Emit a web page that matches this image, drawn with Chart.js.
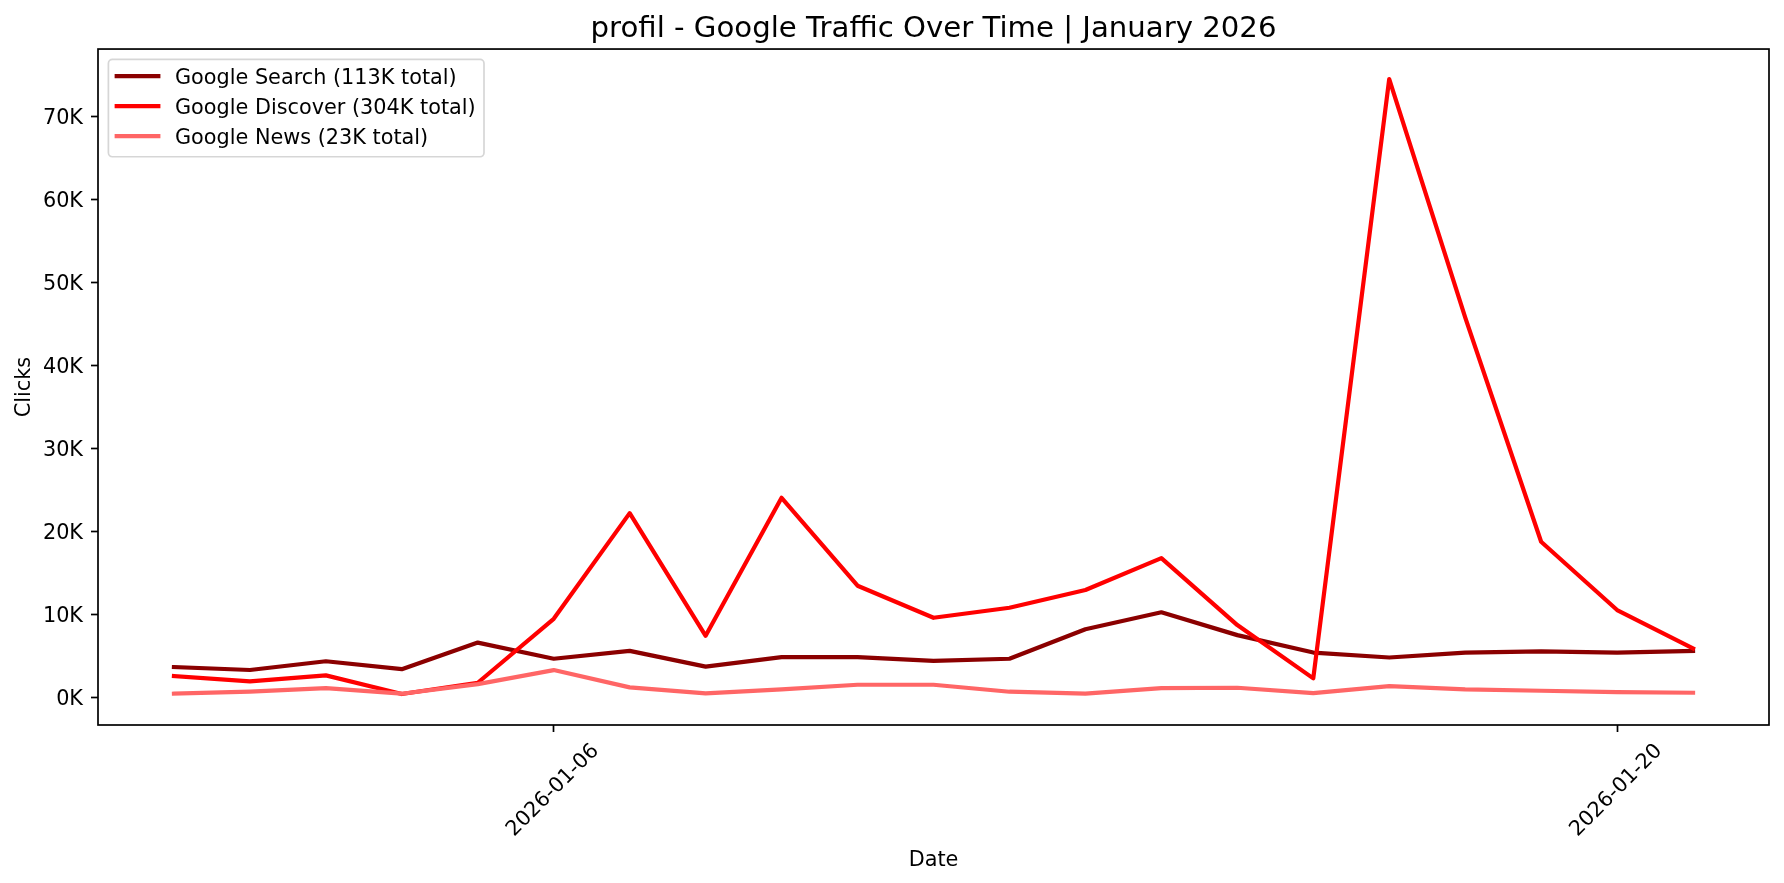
<!DOCTYPE html>
<html>
<head>
<meta charset="utf-8">
<title>profil - Google Traffic Over Time</title>
<script src="https://cdn.jsdelivr.net/npm/chart.js@4.4.1/dist/chart.umd.min.js"></script>
<style>
    html, body { margin: 0; padding: 0; background: #fff; overflow: hidden; }
    #trafficChart { display: block; }
</style>
</head>
<body>
<canvas id="trafficChart" width="1784" height="883"></canvas>
<script>
// Tanggal harian (sumbu X)
const dates = [
    '2026-01-01', '2026-01-02', '2026-01-03', '2026-01-04', '2026-01-05',
    '2026-01-06', '2026-01-07', '2026-01-08', '2026-01-09', '2026-01-10',
    '2026-01-11', '2026-01-12', '2026-01-13', '2026-01-14', '2026-01-15',
    '2026-01-16', '2026-01-17', '2026-01-18', '2026-01-19', '2026-01-20',
    '2026-01-21'
];
const xTickIndex = [5, 19]; // hanya 2026-01-06 dan 2026-01-20 yang diberi label
const yTicks = [0, 10000, 20000, 30000, 40000, 50000, 60000, 70000];

// Clicks per hari
const searchClicks = [3650, 3300, 4350, 3400, 6600, 4650, 5600, 3700, 4850, 4850, 4400,
                      4650, 8200, 10250, 7500, 5400, 4800, 5400, 5550, 5400, 5600];
const discoverClicks = [2570, 1920, 2650, 400, 1760, 9470, 22200, 7420, 24050, 13450, 9590,
                        10800, 12930, 16780, 8710, 2290, 74500, 45800, 18750, 10520, 5900];
const newsClicks = [440, 680, 1120, 440, 1600, 3290, 1200, 480, 960, 1520, 1520,
                    680, 440, 1120, 1160, 520, 1360, 960, 800, 640, 560];

const seriesLabels = ['Google Search (113K total)', 'Google Discover (304K total)', 'Google News (23K total)'];
const seriesColors = ['#8b0000', '#ff0000', '#ff6666'];

const FONT = 20.8; // 10pt @150dpi

Chart.defaults.font.family = "'DejaVu Sans', sans-serif";
Chart.defaults.color = '#000';

function toPoints(values) {
    return values.map((v, i) => ({ x: i, y: v }));
}

// Bingkai penuh + legend di dalam area plot
const frameAndLegend = {
    id: 'frameAndLegend',
    afterDatasetsDraw(chart) {
        const { ctx, chartArea: a } = chart;
        ctx.save();

        // frame (4 sisi)
        ctx.strokeStyle = '#000';
        ctx.lineWidth = 1.7;
        ctx.strokeRect(a.left, a.top, a.right - a.left, a.bottom - a.top);

        // legend box
        ctx.font = FONT + "px 'DejaVu Sans'";
        const sets = chart.data.datasets;
        const textW = Math.max(...sets.map(d => ctx.measureText(d.label).width));
        const pad = 0.4 * FONT;
        const handleLen = 2 * FONT;
        const textPad = 0.8 * FONT;
        const rowH = 30;
        const bx = a.left + 0.5 * FONT;
        const by = a.top + 0.5 * FONT;
        const bw = pad + handleLen + textPad + textW + pad;
        const bh = 97.3;

        ctx.beginPath();
        if (ctx.roundRect) ctx.roundRect(bx, by, bw, bh, 4);
        else ctx.rect(bx, by, bw, bh);
        ctx.fillStyle = 'rgba(255,255,255,0.8)';
        ctx.fill();
        ctx.strokeStyle = 'rgba(204,204,204,0.8)';
        ctx.lineWidth = 1.7;
        ctx.stroke();

        sets.forEach((d, i) => {
            const cy = by + 16.6 + i * rowH;
            ctx.beginPath();
            ctx.lineCap = 'square';
            ctx.strokeStyle = d.borderColor;
            ctx.lineWidth = 4.2;
            ctx.moveTo(bx + pad, cy);
            ctx.lineTo(bx + pad + handleLen, cy);
            ctx.stroke();

            ctx.fillStyle = '#000';
            ctx.textAlign = 'left';
            ctx.textBaseline = 'middle';
            ctx.fillText(d.label, bx + pad + handleLen + textPad, cy + 2.5);
        });
        ctx.restore();
    }
};

const tickGrid = {
    drawOnChartArea: false,
    drawTicks: true,
    tickLength: 7,
    tickWidth: 1.7,
    tickColor: '#000'
};

const ctxTraffic = document.getElementById('trafficChart').getContext('2d');
const trafficChart = new Chart(ctxTraffic, {
    type: 'line',
    data: {
        datasets: [searchClicks, discoverClicks, newsClicks].map((values, i) => ({
            label: seriesLabels[i],
            data: toPoints(values),
            borderColor: seriesColors[i],
            backgroundColor: seriesColors[i],
            borderWidth: 4.2,
            pointRadius: 0,
            fill: false,
            tension: 0,
            borderJoinStyle: 'round',
            borderCapStyle: 'square',
            order: 3 - i
        }))
    },
    options: {
        responsive: false,
        animation: false,
        layout: { padding: { left: 0, right: 15, top: 0, bottom: 0 } },
        plugins: {
            legend: { display: false },
            tooltip: { enabled: false },
            title: {
                display: true,
                fullSize: false,
                text: 'profil - Google Traffic Over Time | January 2026',
                color: '#000',
                font: { size: 29.2, weight: 'normal' },
                padding: { top: 11.6, bottom: 2.4 }
            }
        },
        scales: {
            x: {
                type: 'linear',
                min: -1,
                max: 21,
                afterBuildTicks: scale => { scale.ticks = xTickIndex.map(v => ({ value: v })); },
                afterFit: scale => { scale.height = 158; },
                ticks: {
                    autoSkip: false,
                    minRotation: 45,
                    maxRotation: 45,
                    labelOffset: 42,
                    padding: 7,
                    color: '#000',
                    font: { size: FONT },
                    callback: value => dates[value]
                },
                grid: tickGrid,
                border: { display: false },
                title: {
                    display: true,
                    text: 'Date',
                    color: '#000',
                    font: { size: FONT },
                    padding: { top: 0, bottom: 10 }
                }
            },
            y: {
                type: 'linear',
                min: -3330,
                max: 78120,
                afterBuildTicks: scale => { scale.ticks = yTicks.map(v => ({ value: v })); },
                afterFit: scale => { scale.width = 98; },
                ticks: {
                    padding: 8,
                    labelOffset: 2,
                    color: '#000',
                    font: { size: FONT },
                    callback: value => (value / 1000) + 'K'
                },
                grid: tickGrid,
                border: { display: false },
                title: {
                    display: true,
                    text: 'Clicks',
                    color: '#000',
                    font: { size: FONT },
                    padding: { top: 12.6, bottom: 0 }
                }
            }
        }
    },
    plugins: [frameAndLegend]
});
</script>
</body>
</html>
